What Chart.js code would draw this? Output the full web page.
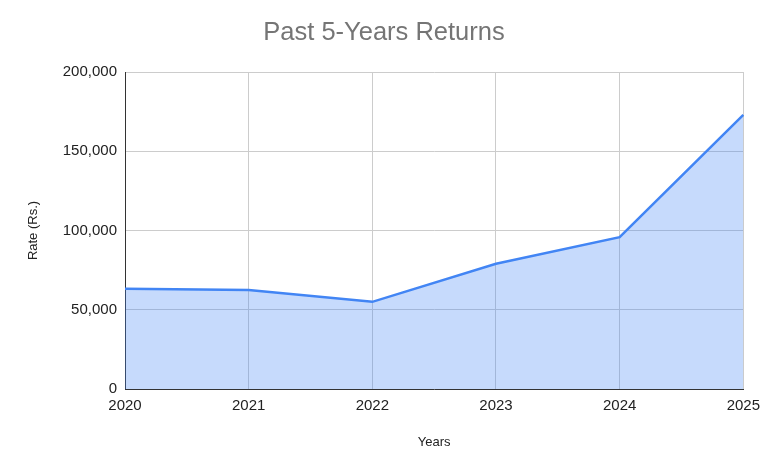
<!DOCTYPE html>
<html>
<head>
<meta charset="utf-8">
<script src="https://cdn.jsdelivr.net/npm/chart.js@4.4.1/dist/chart.umd.min.js"></script>
<style>
  html, body { margin: 0; padding: 0; background: #fff; }
  #wrap { width: 768px; height: 475px; }
</style>
</head>
<body>
<div id="wrap"><canvas id="returnsChart" width="768" height="475"></canvas></div>
<script>
// Data
const years = ["2020", "2021", "2022", "2023", "2024", "2025"];
const rates = [63300, 62500, 55000, 79000, 95800, 173000];
const yTicks = [0, 50000, 100000, 150000, 200000];

const FONT = "Arial, 'Liberation Sans', sans-serif";

const ctx = document.getElementById("returnsChart");

new Chart(ctx, {
  type: "line",
  data: {
    labels: years,
    datasets: [
      {
        label: "Rate (Rs.)",
        data: rates,
        borderColor: "#4285F4",
        backgroundColor: "rgba(66, 133, 244, 0.3)",
        borderWidth: 2.5,
        pointRadius: 0,
        tension: 0,
        fill: "origin",
        yAxisID: "y",
      },
    ],
  },
  options: {
    responsive: false,
    animation: false,
    layout: { padding: 0 },
    plugins: {
      legend: { display: false },
      tooltip: { enabled: false },
      title: {
        display: true,
        text: "Past 5-Years Returns",
        color: "#757575",
        font: { family: FONT, size: 25.5, weight: "normal" },
        padding: { top: 18, bottom: 23.4 },
      },
    },
    scales: {
      x: {
        type: "category",
        offset: false,
        grid: { color: "#cccccc", drawTicks: false },
        border: { color: "#333333", width: 1 },
        ticks: {
          color: "#222222",
          font: { family: FONT, size: 15 },
          padding: 8,
          maxRotation: 0,
          autoSkip: false,
        },
        title: {
          display: true,
          text: "Years",
          color: "#222222",
          font: { family: FONT, size: 13 },
          padding: { top: 0, bottom: 25 },
        },
        afterFit: function (scale) {
          scale.height = 86;
        },
      },
      y: {
        min: 0,
        max: 200000,
        grid: { color: "#cccccc", drawTicks: false },
        border: { color: "#333333", width: 1 },
        afterBuildTicks: function (scale) {
          scale.ticks = yTicks.map((v) => ({ value: v }));
        },
        ticks: {
          color: "#222222",
          font: { family: FONT, size: 15 },
          padding: 8,
          callback: function (value) {
            return value.toLocaleString("en-US");
          },
        },
        title: {
          display: true,
          text: "Rate (Rs.)",
          color: "#222222",
          font: { family: FONT, size: 13 },
          padding: { top: 26, bottom: 0 },
        },
        afterFit: function (scale) {
          scale.width = 125;
        },
      },
      // empty right-hand axis, only keeps the plot clear of the right edge
      yRight: {
        position: "right",
        min: 0,
        max: 200000,
        grid: { display: false, drawTicks: false },
        border: { display: false },
        ticks: { display: false },
        afterFit: function (scale) {
          scale.width = 24;
        },
      },
    },
  },
});
</script>
</body>
</html>
